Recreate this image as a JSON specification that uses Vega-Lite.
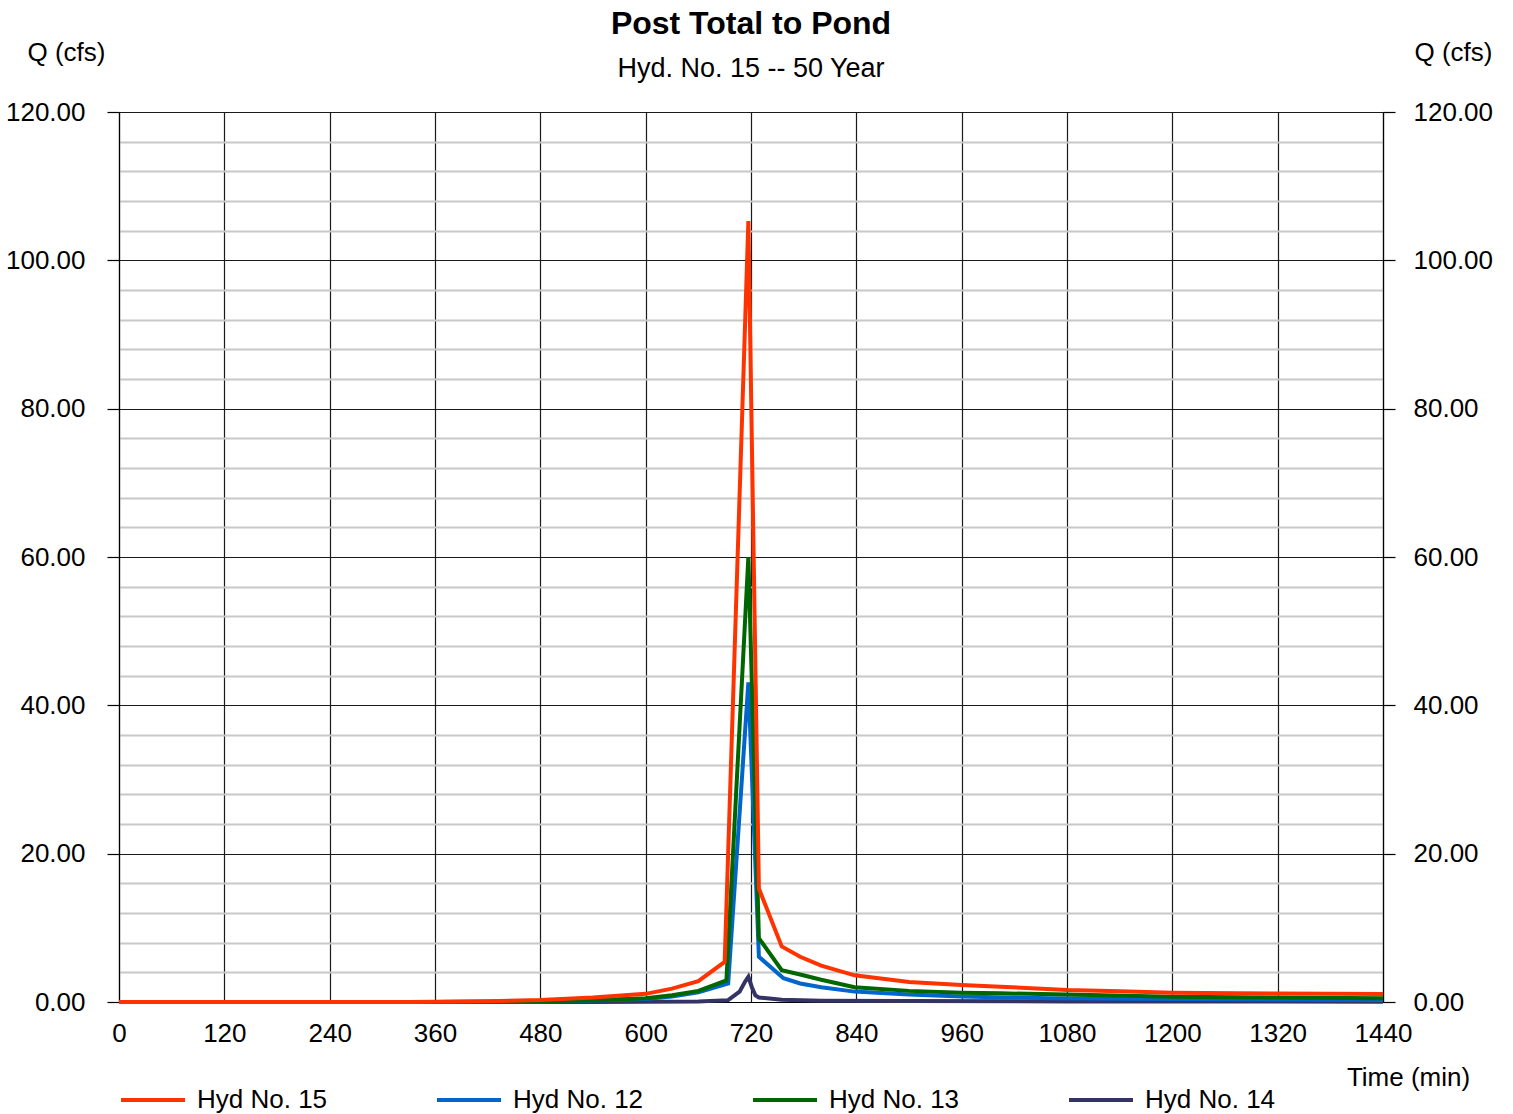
{
  "$schema": "https://vega.github.io/schema/vega-lite/v6.json",
  "width": 1264,
  "height": 890,
  "autosize": {"type": "none"},
  "padding": {"left": 119, "top": 112, "right": 130, "bottom": 112},
  "background": "white",
  "config": {
    "font": "Liberation Sans",
    "view": {"stroke": null},
    "axis": {
      "labelFont": "Liberation Sans",
      "labelFontSize": 26,
      "labelColor": "black",
      "titleFont": "Liberation Sans",
      "titleFontSize": 26,
      "titleFontWeight": "normal",
      "titleColor": "black",
      "domainColor": "black",
      "domainWidth": 1.2,
      "tickColor": "black",
      "tickWidth": 1.2,
      "labelOverlap": false,
      "labelFlush": false
    }
  },
  "title": {
    "text": "Post Total to Pond",
    "subtitle": "Hyd. No. 15 -- 50 Year",
    "anchor": "middle",
    "font": "Liberation Sans",
    "fontSize": 32,
    "fontWeight": "bold",
    "color": "black",
    "subtitleFont": "Liberation Sans",
    "subtitleFontSize": 27,
    "subtitleColor": "black",
    "subtitlePadding": 15,
    "offset": -44
  },
  "data": {
    "values": [
      {"series": "Hyd No. 14", "t": 0, "q": 0},
      {"series": "Hyd No. 14", "t": 540, "q": 0},
      {"series": "Hyd No. 14", "t": 600, "q": 0.02},
      {"series": "Hyd No. 14", "t": 660, "q": 0.06},
      {"series": "Hyd No. 14", "t": 694, "q": 0.25},
      {"series": "Hyd No. 14", "t": 707, "q": 1.4},
      {"series": "Hyd No. 14", "t": 713, "q": 2.7},
      {"series": "Hyd No. 14", "t": 717, "q": 3.4},
      {"series": "Hyd No. 14", "t": 721, "q": 2.0},
      {"series": "Hyd No. 14", "t": 725, "q": 0.9},
      {"series": "Hyd No. 14", "t": 729, "q": 0.6},
      {"series": "Hyd No. 14", "t": 755, "q": 0.3},
      {"series": "Hyd No. 14", "t": 800, "q": 0.18},
      {"series": "Hyd No. 14", "t": 900, "q": 0.12},
      {"series": "Hyd No. 14", "t": 1080, "q": 0.08},
      {"series": "Hyd No. 14", "t": 1440, "q": 0.05},

      {"series": "Hyd No. 12", "t": 0, "q": 0},
      {"series": "Hyd No. 12", "t": 360, "q": 0},
      {"series": "Hyd No. 12", "t": 420, "q": 0.02},
      {"series": "Hyd No. 12", "t": 480, "q": 0.08},
      {"series": "Hyd No. 12", "t": 540, "q": 0.2},
      {"series": "Hyd No. 12", "t": 600, "q": 0.4},
      {"series": "Hyd No. 12", "t": 630, "q": 0.75},
      {"series": "Hyd No. 12", "t": 660, "q": 1.3},
      {"series": "Hyd No. 12", "t": 694, "q": 2.5},
      {"series": "Hyd No. 12", "t": 717, "q": 43.1},
      {"series": "Hyd No. 12", "t": 729, "q": 6.1},
      {"series": "Hyd No. 12", "t": 757, "q": 3.2},
      {"series": "Hyd No. 12", "t": 776, "q": 2.5},
      {"series": "Hyd No. 12", "t": 800, "q": 2.0},
      {"series": "Hyd No. 12", "t": 838, "q": 1.4},
      {"series": "Hyd No. 12", "t": 900, "q": 1.0},
      {"series": "Hyd No. 12", "t": 960, "q": 0.75},
      {"series": "Hyd No. 12", "t": 1060, "q": 0.5},
      {"series": "Hyd No. 12", "t": 1200, "q": 0.4},
      {"series": "Hyd No. 12", "t": 1320, "q": 0.33},
      {"series": "Hyd No. 12", "t": 1440, "q": 0.27},

      {"series": "Hyd No. 13", "t": 0, "q": 0},
      {"series": "Hyd No. 13", "t": 360, "q": 0},
      {"series": "Hyd No. 13", "t": 420, "q": 0.02},
      {"series": "Hyd No. 13", "t": 480, "q": 0.1},
      {"series": "Hyd No. 13", "t": 540, "q": 0.25},
      {"series": "Hyd No. 13", "t": 600, "q": 0.5},
      {"series": "Hyd No. 13", "t": 630, "q": 0.9},
      {"series": "Hyd No. 13", "t": 660, "q": 1.5},
      {"series": "Hyd No. 13", "t": 692, "q": 2.9},
      {"series": "Hyd No. 13", "t": 717, "q": 60.0},
      {"series": "Hyd No. 13", "t": 729, "q": 8.6},
      {"series": "Hyd No. 13", "t": 755, "q": 4.3},
      {"series": "Hyd No. 13", "t": 776, "q": 3.7},
      {"series": "Hyd No. 13", "t": 800, "q": 3.0},
      {"series": "Hyd No. 13", "t": 838, "q": 2.0},
      {"series": "Hyd No. 13", "t": 900, "q": 1.5},
      {"series": "Hyd No. 13", "t": 960, "q": 1.25},
      {"series": "Hyd No. 13", "t": 1004, "q": 1.17},
      {"series": "Hyd No. 13", "t": 1080, "q": 1.0},
      {"series": "Hyd No. 13", "t": 1200, "q": 0.72},
      {"series": "Hyd No. 13", "t": 1320, "q": 0.6},
      {"series": "Hyd No. 13", "t": 1440, "q": 0.5},

      {"series": "Hyd No. 15", "t": 0, "q": 0},
      {"series": "Hyd No. 15", "t": 120, "q": 0},
      {"series": "Hyd No. 15", "t": 240, "q": 0},
      {"series": "Hyd No. 15", "t": 330, "q": 0.01},
      {"series": "Hyd No. 15", "t": 360, "q": 0.03},
      {"series": "Hyd No. 15", "t": 420, "q": 0.1},
      {"series": "Hyd No. 15", "t": 480, "q": 0.27},
      {"series": "Hyd No. 15", "t": 540, "q": 0.6},
      {"series": "Hyd No. 15", "t": 600, "q": 1.1},
      {"series": "Hyd No. 15", "t": 630, "q": 1.8},
      {"series": "Hyd No. 15", "t": 660, "q": 2.8},
      {"series": "Hyd No. 15", "t": 690, "q": 5.4},
      {"series": "Hyd No. 15", "t": 717, "q": 105.3},
      {"series": "Hyd No. 15", "t": 729, "q": 15.3},
      {"series": "Hyd No. 15", "t": 755, "q": 7.5},
      {"series": "Hyd No. 15", "t": 776, "q": 6.1},
      {"series": "Hyd No. 15", "t": 800, "q": 4.9},
      {"series": "Hyd No. 15", "t": 838, "q": 3.6},
      {"series": "Hyd No. 15", "t": 900, "q": 2.7},
      {"series": "Hyd No. 15", "t": 960, "q": 2.3},
      {"series": "Hyd No. 15", "t": 1004, "q": 2.07},
      {"series": "Hyd No. 15", "t": 1080, "q": 1.62},
      {"series": "Hyd No. 15", "t": 1140, "q": 1.45},
      {"series": "Hyd No. 15", "t": 1200, "q": 1.26},
      {"series": "Hyd No. 15", "t": 1320, "q": 1.15},
      {"series": "Hyd No. 15", "t": 1440, "q": 1.08}
    ]
  },
  "layer": [
    {
      "mark": {"type": "line", "opacity": 0},
      "encoding": {
        "x": {"field": "t", "type": "quantitative", "scale": {"domain": [0, 1440], "nice": false},
              "axis": {"orient": "bottom", "values": [0,120,240,360,480,600,720,840,960,1080,1200,1320,1440], "format": "d", "grid": true, "gridColor": "#1a1a1a", "gridWidth": 1.2, "gridOpacity": 1, "ticks": false, "labelPadding": 18, "title": "Time (min)", "titleAngle": 0, "titleX": 1289, "titleY": 75, "titleAlign": "center", "titleBaseline": "middle"}},
        "y": {"field": "q", "type": "quantitative", "scale": {"domain": [0, 120], "nice": false},
              "axis": {"orient": "left", "values": [4,8,12,16,24,28,32,36,44,48,52,56,64,68,72,76,84,88,92,96,104,108,112,116], "grid": true, "gridColor": "#c8c8c8", "gridWidth": 2, "gridOpacity": 1, "labels": false, "ticks": false, "domain": false, "title": null}},
        "detail": {"field": "series"}
      }
    },
    {
      "mark": {"type": "line", "opacity": 0},
      "encoding": {
        "x": {"field": "t", "type": "quantitative", "scale": {"domain": [0, 1440], "nice": false},
              "axis": {"orient": "bottom", "values": [0,120,240,360,480,600,720,840,960,1080,1200,1320,1440], "format": "d", "grid": true, "gridColor": "#1a1a1a", "gridWidth": 1.2, "gridOpacity": 1, "ticks": false, "labelPadding": 18, "title": "Time (min)", "titleAngle": 0, "titleX": 1289, "titleY": 75, "titleAlign": "center", "titleBaseline": "middle"}},
        "y": {"field": "q", "type": "quantitative", "scale": {"domain": [0, 120], "nice": false},
              "axis": {"orient": "right", "values": [0,20,40,60,80,100,120], "format": ".2f", "grid": false, "tickSize": 12, "labelPadding": 18, "title": "Q (cfs)", "titleAngle": 0, "titleX": 70, "titleY": -60, "titleAlign": "center", "titleBaseline": "middle"}},
        "detail": {"field": "series"}
      }
    },
    {
      "mark": {"type": "line", "strokeWidth": 4},
      "encoding": {
        "x": {"field": "t", "type": "quantitative", "scale": {"domain": [0, 1440], "nice": false},
              "axis": {"orient": "bottom", "values": [0,120,240,360,480,600,720,840,960,1080,1200,1320,1440], "format": "d", "grid": true, "gridColor": "#1a1a1a", "gridWidth": 1.2, "gridOpacity": 1, "ticks": false, "labelPadding": 18, "title": "Time (min)", "titleAngle": 0, "titleX": 1289, "titleY": 75, "titleAlign": "center", "titleBaseline": "middle"}},
        "y": {"field": "q", "type": "quantitative", "scale": {"domain": [0, 120], "nice": false},
              "axis": {"orient": "left", "values": [0,20,40,60,80,100,120], "format": ".2f", "grid": true, "gridColor": "#1a1a1a", "gridWidth": 1.2, "gridOpacity": 1, "tickSize": 12, "labelPadding": 22, "title": "Q (cfs)", "titleAngle": 0, "titleX": -53, "titleY": -60, "titleAlign": "center", "titleBaseline": "middle"}},
        "color": {"field": "series", "type": "nominal",
                  "scale": {"domain": ["Hyd No. 15", "Hyd No. 12", "Hyd No. 13", "Hyd No. 14"], "range": ["#ff3300", "#0066cc", "#006600", "#333366"]},
                  "legend": {"orient": "none", "legendX": 0, "legendY": 954, "direction": "horizontal", "columns": 4, "columnPadding": 101, "title": null, "symbolType": "stroke", "symbolSize": 4096, "symbolStrokeWidth": 4, "labelFontSize": 26, "labelFont": "Liberation Sans", "labelColor": "black", "labelOffset": 10, "padding": 0}}
      }
    }
  ],
  "resolve": {"axis": {"y": "independent"}}
}
